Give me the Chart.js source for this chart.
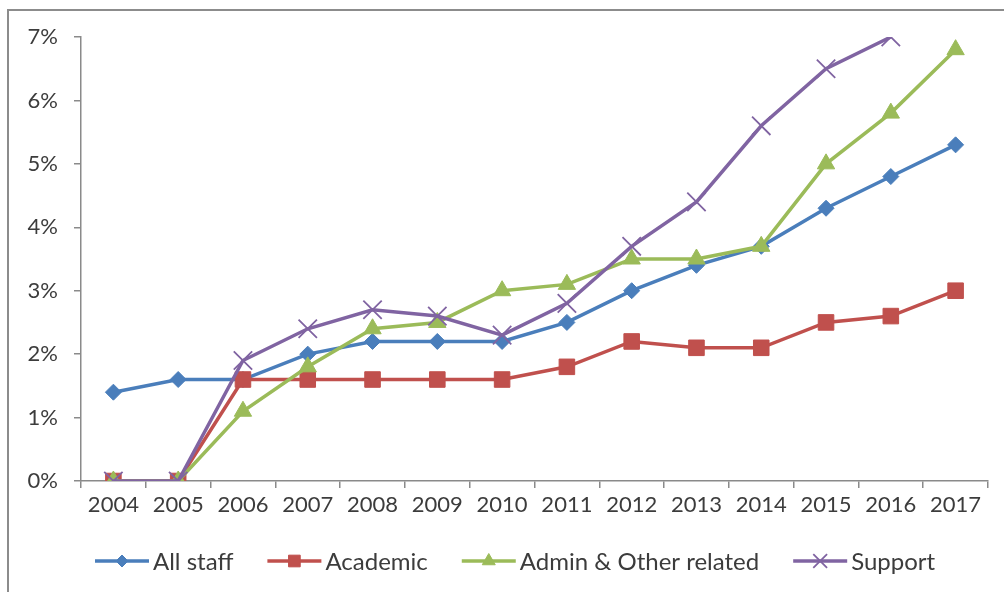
<!DOCTYPE html>
<html>
<head>
<meta charset="utf-8">
<script src="https://cdn.jsdelivr.net/npm/chart.js@4/dist/chart.umd.min.js"></script>
<style>
  html, body { margin: 0; padding: 0; background: #fff; overflow: hidden; }
  #wrap { position: relative; width: 1004px; height: 592px; }
  #frame { position: absolute; left: 7px; top: 9px; width: 1100px; height: 700px; border: 2px solid #8c8c8c; box-sizing: border-box; }
  canvas { position: absolute; left: 0; top: 0; }
</style>
</head>
<body>
<div id="wrap">
  <div id="frame"></div>
  <canvas id="staffChart" width="1004" height="592"></canvas>
</div>
<script>
const years = ['2004', '2005', '2006', '2007', '2008', '2009', '2010', '2011', '2012', '2013', '2014', '2015', '2016', '2017'];
const allStaff = [1.4, 1.6, 1.6, 2.0, 2.2, 2.2, 2.2, 2.5, 3.0, 3.4, 3.7, 4.3, 4.8, 5.3];
const academic = [0, 0, 1.6, 1.6, 1.6, 1.6, 1.6, 1.8, 2.2, 2.1, 2.1, 2.5, 2.6, 3.0];
const adminOther = [0, 0, 1.1, 1.8, 2.4, 2.5, 3.0, 3.1, 3.5, 3.5, 3.7, 5.0, 5.8, 6.8];
const support = [0, 0, 1.9, 2.4, 2.7, 2.6, 2.3, 2.8, 3.7, 4.4, 5.6, 6.5, 7.0, null];
const yTicks = [0, 1, 2, 3, 4, 5, 6, 7];

const FONT = 'Lato, "Open Sans", sans-serif';
const TEXT = '#3c3c3c';
const AXIS = '#8a8a8a';

function series(label, data, color, style, radius, order) {
    return {
        label: label,
        data: data,
        borderColor: color,
        backgroundColor: color,
        pointBackgroundColor: color,
        pointBorderColor: color,
        pointStyle: style,
        pointRadius: radius,
        pointBorderWidth: style === 'crossRot' ? 1.8 : 1,
        borderWidth: 3.5,
        tension: 0,
        order: order
    };
}

// legend drawn under the axis: line + marker + text, like the spreadsheet
const bottomLegend = {
    id: 'bottomLegend',
    afterDraw(chart) {
        const ctx = chart.ctx;
        const y = 561;
        let x = 95;
        ctx.save();
        ctx.font = '24px ' + FONT;
        ctx.textBaseline = 'middle';
        chart.data.datasets.forEach(ds => {
            ctx.strokeStyle = ds.borderColor;
            ctx.lineWidth = 3.5;
            ctx.beginPath();
            ctx.moveTo(x, y);
            ctx.lineTo(x + 54, y);
            ctx.stroke();
            ctx.fillStyle = ds.pointBackgroundColor;
            ctx.strokeStyle = ds.pointBorderColor;
            ctx.lineWidth = ds.pointBorderWidth;
            Chart.helpers.drawPoint(ctx, { pointStyle: ds.pointStyle, radius: ds.pointRadius * 0.75, borderWidth: ds.pointBorderWidth, rotation: 0 }, x + 27, y);
            ctx.fillStyle = TEXT;
            ctx.fillText(ds.label, x + 58, y + 1);
            x += 58 + ctx.measureText(ds.label).width + 34;
        });
        ctx.restore();
    }
};

const ctx = document.getElementById('staffChart').getContext('2d');
new Chart(ctx, {
    type: 'line',
    data: {
        labels: years,
        datasets: [
            series('All staff', allStaff, '#4a7ebb', 'rectRot', 8, 4),
            series('Academic', academic, '#c0504d', 'rect', 11, 3),
            series('Admin & Other related', adminOther, '#9bbb59', 'triangle', 10, 2),
            series('Support', support, '#8064a2', 'crossRot', 13, 1)
        ]
    },
    options: {
        responsive: false,
        animation: false,
        layout: { padding: { top: 37, right: 16, left: 0, bottom: 0 } },
        plugins: {
            legend: { display: false },
            tooltip: { enabled: false }
        },
        scales: {
            x: {
                offset: true,
                grid: { offset: true, drawOnChartArea: false, color: AXIS, tickLength: 7, lineWidth: 1.5 },
                border: { color: AXIS, width: 1.5 },
                ticks: { color: TEXT, font: { family: FONT, size: 22 }, padding: 4, maxRotation: 0, autoSkip: false },
                afterFit(scale) { scale.height = 111; }
            },
            y: {
                min: 0,
                max: 7,
                afterBuildTicks(scale) { scale.ticks = yTicks.map(v => ({ value: v })); },
                grid: { drawOnChartArea: false, color: AXIS, tickLength: 7, lineWidth: 1.5 },
                border: { color: AXIS, width: 1.5 },
                ticks: { color: TEXT, font: { family: FONT, size: 22 }, padding: 16, callback: v => v + '%' },
                afterFit(scale) { scale.width = 81; }
            }
        }
    },
    plugins: [bottomLegend]
});
</script>
</body>
</html>
